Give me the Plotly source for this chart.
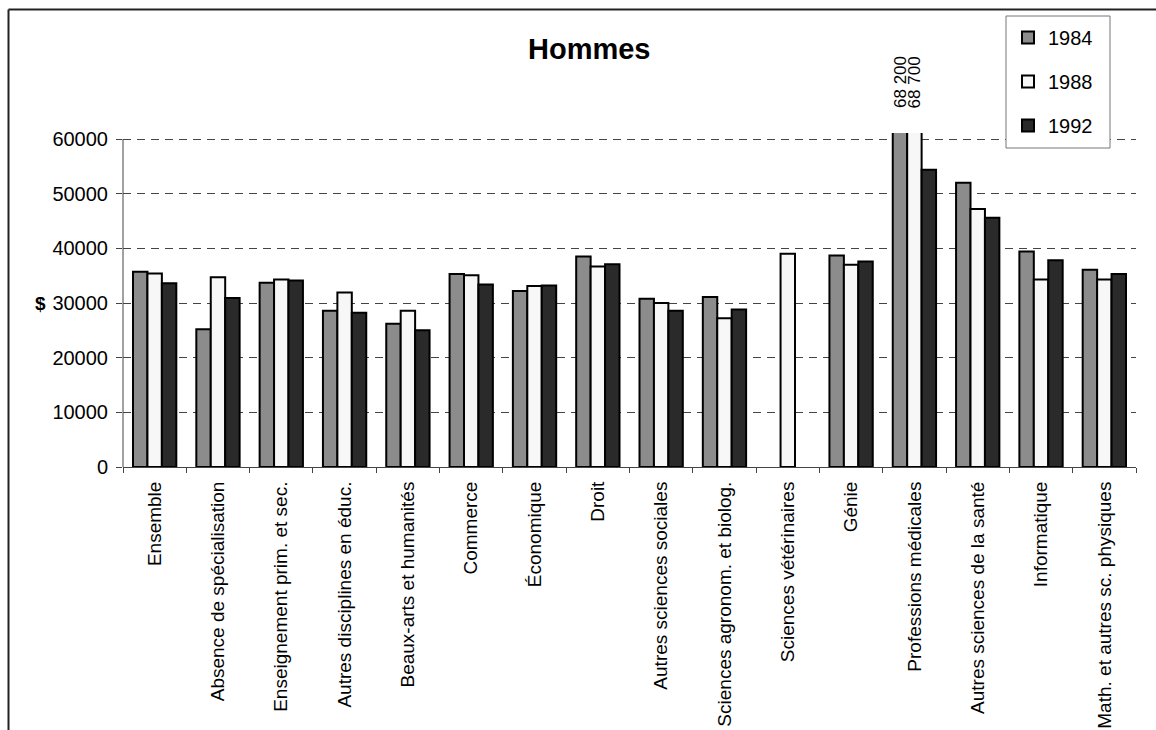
import plotly.graph_objects as go

# Revenu moyen des hommes selon le domaine d'études
categories = [
    "Ensemble", "Absence de spécialisation", "Enseignement prim. et sec.",
    "Autres disciplines en éduc.", "Beaux-arts et humanités", "Commerce",
    "Économique", "Droit", "Autres sciences sociales",
    "Sciences agronom. et biolog.", "Sciences vétérinaires", "Génie",
    "Professions médicales", "Autres sciences de la santé", "Informatique",
    "Math. et autres sc. physiques",
]
years = ["1984", "1988", "1992"]
y1984 = [35700, 25200, 33700, 28600, 26200, 35300, 32200, 38500, 30800, 31100,
         None, 38700, 68200, 52000, 39400, 36100]
y1988 = [35400, 34700, 34300, 31900, 28600, 35100, 33100, 36700, 30000, 27200,
         39000, 37000, 68700, 47200, 34300, 34300]
y1992 = [33600, 30900, 34100, 28200, 25000, 33400, 33200, 37100, 28600, 28800,
         None, 37600, 54400, 45600, 37800, 35300]
y_ticks = [0, 10000, 20000, 30000, 40000, 50000, 60000]

fills = ["#8c8c8c", "#f7f7f7", "#2a2a2a"]
FONT = "Arial, Liberation Sans, sans-serif"

# page geometry (pixels)
W, H = 1156, 730
ML, MR, MT, MB = 123, 20, 133, 263
PW, PH = W - ML - MR, H - MT - MB
Y_MAX = 61100


def xp(px):
    return (px - ML) / PW


def yp(py):
    return (H - MB - py) / PH


fig = go.Figure()
for name, vals, col in zip(years, [y1984, y1988, y1992], fills):
    fig.add_trace(go.Bar(
        x=categories, y=vals, name=name, legendgroup=name,
        marker=dict(color=col, line=dict(color="#000000", width=2)),
    ))

# values above the clipped bars
cat_w = PW / len(categories)
gap = 0.316
bar_w = cat_w * (1 - gap) / 3
annotations = []
for k, vals in enumerate([y1984, y1988, y1992]):
    for i, v in enumerate(vals):
        if v is not None and v > Y_MAX:
            annotations.append(dict(
                x=categories[i], xref="x", y=yp(82), yref="paper",
                xshift=(k - 1) * bar_w, text=f"{v:,.0f}".replace(",", " "),
                textangle=-90, showarrow=False, xanchor="center", yanchor="middle",
                font=dict(family=FONT, size=17, color="#000000"),
            ))

annotations.append(dict(
    x=xp(589), xref="paper", y=yp(49), yref="paper", text="<b>Hommes</b>",
    showarrow=False, xanchor="center", yanchor="middle",
    font=dict(family=FONT, size=29, color="#000000"),
))
annotations.append(dict(
    x=xp(40), xref="paper", y=30000, yref="y", text="<b>$</b>",
    showarrow=False, xanchor="center", yanchor="middle",
    font=dict(family=FONT, size=19, color="#000000"),
))

shapes = [
    # outer frame
    dict(type="line", xref="paper", yref="paper", x0=xp(8.5), x1=xp(1160),
         y0=yp(9.5), y1=yp(9.5), line=dict(color="#222222", width=2)),
    dict(type="line", xref="paper", yref="paper", x0=xp(8.5), x1=xp(8.5),
         y0=yp(9.5), y1=yp(740), line=dict(color="#222222", width=2)),
    # value axis line
    dict(type="line", xref="paper", yref="y", x0=0, x1=0, y0=0, y1=60000,
         line=dict(color="#444444", width=1)),
    # legend box
    dict(type="rect", xref="paper", yref="paper", x0=xp(1006), x1=xp(1110),
         y0=yp(148), y1=yp(16), fillcolor="#ffffff",
         line=dict(color="#777777", width=1), layer="above"),
]

fig.update_layout(
    width=W, height=H,
    margin=dict(l=ML, r=MR, t=MT, b=MB, pad=0, autoexpand=False),
    paper_bgcolor="#ffffff", plot_bgcolor="#ffffff",
    barmode="group", bargap=gap, bargroupgap=0,
    font=dict(family=FONT, color="#000000"),
    showlegend=True,
    legend=dict(
        x=xp(1008), xanchor="left", y=yp(18), yanchor="top",
        bgcolor="rgba(0,0,0,0)", borderwidth=0,
        font=dict(family=FONT, size=20, color="#000000"),
        traceorder="grouped", tracegroupgap=15,
    ),
    annotations=annotations,
    shapes=shapes,
)
fig.update_xaxes(
    type="category", tickangle=-90, tickson="boundaries", automargin=False,
    ticks="outside", ticklen=5, tickcolor="#444444",
    showline=True, linecolor="#444444", linewidth=1,
    showgrid=False, zeroline=False,
    tickfont=dict(family=FONT, size=19, color="#000000"),
    ticklabelstandoff=6,
)
fig.update_yaxes(
    range=[0, Y_MAX], tickvals=y_ticks, ticktext=[str(v) for v in y_ticks],
    automargin=False,
    ticks="outside", ticklen=6, tickcolor="#444444",
    showline=False, zeroline=False,
    showgrid=True, gridcolor="#444444", gridwidth=1, griddash="8px,6px",
    tickfont=dict(family=FONT, size=20, color="#000000"),
    ticklabelstandoff=4,
)

fig.write_html("out.html")
